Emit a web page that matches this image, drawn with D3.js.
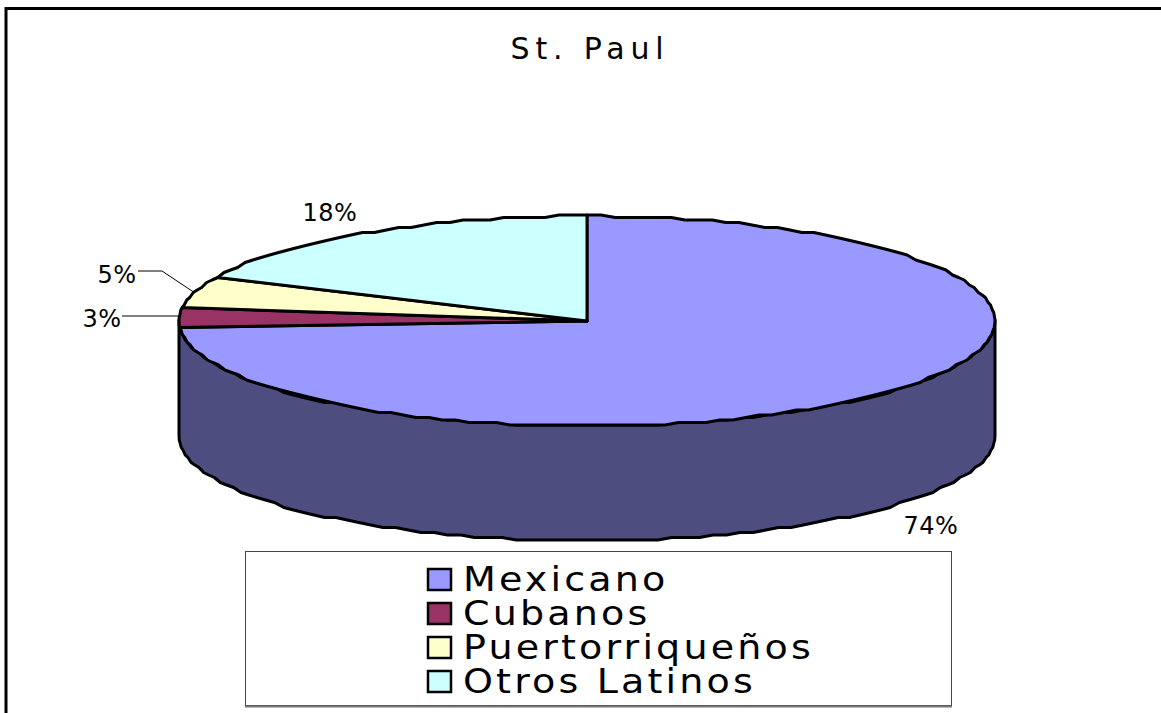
<!DOCTYPE html>
<html>
<head>
<meta charset="utf-8">
<script src="https://cdn.jsdelivr.net/npm/d3@7"></script>
<style>
  html, body { margin: 0; padding: 0; background: #fff; }
  svg { display: block; }
  text { font-family: "DejaVu Sans", sans-serif; fill: #000; }
</style>
</head>
<body>
<script>
const categories = ['Mexicano', 'Cubanos', 'Puertorriqueños', 'Otros Latinos'];
const values = [74, 3, 5, 18];
const colors = ['#9999ff', '#993366', '#ffffcc', '#ccffff'];
const title = 'St. Paul';

const width = 1161, height = 713;
const cx = 587, cy = 321, rx = 408, ry = 105, depth = 115;

const svg = d3.select('body').append('svg')
  .attr('width', width)
  .attr('height', height);

// outer chart frame, only top and left reach the picture
svg.append('path')
  .attr('d', `M6,${height}V8.5H${width}`)
  .attr('fill', 'none')
  .attr('stroke', '#000')
  .attr('stroke-width', 3);

svg.append('text')
  .attr('x', 590)
  .attr('y', 59)
  .attr('text-anchor', 'middle')
  .style('font-size', '30px')
  .style('letter-spacing', '5.8px')
  .text(title);

const pie = d3.pie().sort(null).value(d => d);
const arcs = pie(values);

// angle (clockwise from 12 o'clock) -> point on the squashed ellipse
// y is snapped a little to get the stepped edge of the old raster
const project = (a, dy = 0) => [
  cx + rx * Math.sin(a),
  Math.round((cy - ry * Math.cos(a)) / 2.5) * 2.5 + dy
];
const line = d3.line();
const step = Math.PI / 90;
const edge = (a0, a1, dy = 0) => {
  const n = Math.max(1, Math.ceil(Math.abs(a1 - a0) / step));
  return d3.range(n + 1).map(i => project(a0 + (a1 - a0) * i / n, dy));
};

// side wall: front half of the rim, pushed down by depth
const wall = edge(Math.PI / 2, Math.PI * 1.5).concat(edge(Math.PI * 1.5, Math.PI / 2, depth));
svg.append('path')
  .attr('d', line(wall) + 'Z')
  .attr('fill', '#4d4d80')
  .attr('stroke', '#000')
  .attr('stroke-width', 3)
  .attr('stroke-linejoin', 'round');

svg.selectAll('path.slice')
  .data(arcs)
  .enter()
  .append('path')
  .attr('class', 'slice')
  .attr('d', d => line([[cx, cy]].concat(edge(d.startAngle, d.endAngle))) + 'Z')
  .attr('fill', (d, i) => colors[i])
  .attr('stroke', '#000')
  .attr('stroke-width', 3)
  .attr('stroke-linejoin', 'round');

// data labels
const labelPos = [[931, 534], [102, 327], [117, 283], [330, 221]];
svg.selectAll('text.pct')
  .data(values)
  .enter()
  .append('text')
  .attr('class', 'pct')
  .attr('x', (d, i) => labelPos[i][0])
  .attr('y', (d, i) => labelPos[i][1])
  .attr('text-anchor', 'middle')
  .style('font-size', '24px')
  .style('letter-spacing', '0.5px')
  .text(d => d + '%');

// leader lines
const leaders = [[[122, 316], [180, 316]], [[138, 271], [162, 271], [195, 293]]];
svg.selectAll('path.leader')
  .data(leaders)
  .enter()
  .append('path')
  .attr('class', 'leader')
  .attr('d', d => line(d))
  .attr('fill', 'none')
  .attr('stroke', '#000')
  .attr('stroke-width', 1);

// legend
svg.append('rect')
  .attr('x', 245.5)
  .attr('y', 551.5)
  .attr('width', 706)
  .attr('height', 154)
  .attr('fill', '#fff')
  .attr('stroke', '#444')
  .attr('stroke-width', 1);
svg.append('path')
  .attr('d', 'M245,706.5H952')
  .attr('stroke', '#777')
  .attr('stroke-width', 2);

const legendY = d3.scalePoint().domain(categories).range([579, 681]);

const legend = svg.selectAll('g.legend')
  .data(categories)
  .enter()
  .append('g')
  .attr('class', 'legend')
  .attr('transform', d => `translate(0,${legendY(d)})`);

legend.append('rect')
  .attr('x', 428)
  .attr('y', -10)
  .attr('width', 23)
  .attr('height', 21)
  .attr('fill', (d, i) => colors[i])
  .attr('stroke', '#000')
  .attr('stroke-width', 2.5);

// the source text is a stretched bitmap, so widen the glyphs a bit
legend.append('text')
  .attr('transform', 'translate(463,12) scale(1.12,1)')
  .style('font-size', '34px')
  .style('letter-spacing', '2.8px')
  .text(d => d);
</script>
</body>
</html>
